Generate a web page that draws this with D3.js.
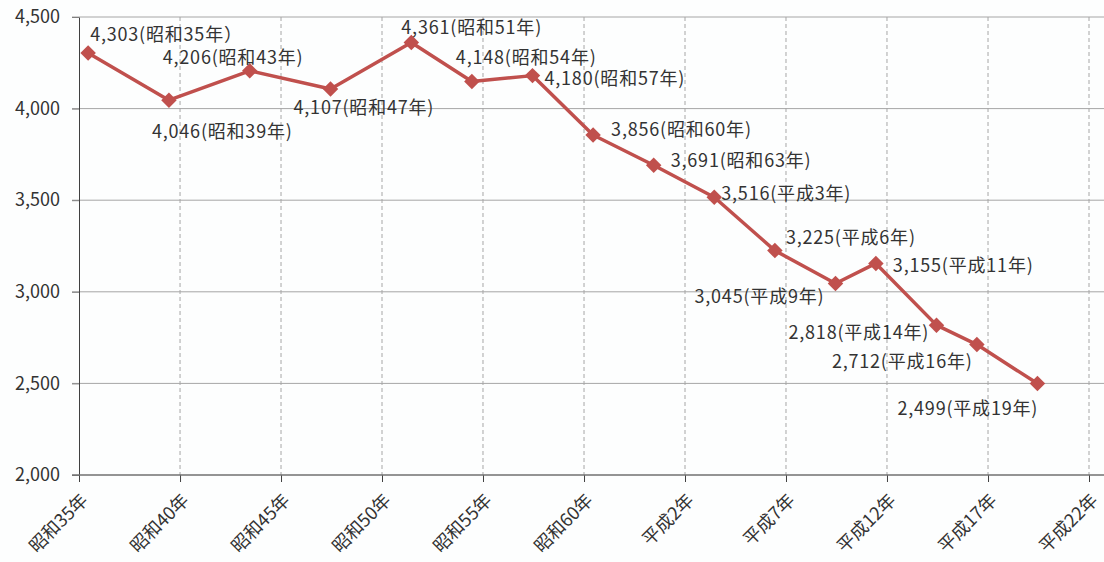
<!DOCTYPE html>
<html lang="ja">
<head>
<meta charset="utf-8">
<script src="https://cdn.jsdelivr.net/npm/d3@7"></script>
<style>
  html, body { margin: 0; padding: 0; background: #fdfefe; }
  svg { display: block; }
  text { font-family: "Noto Sans CJK JP", "Noto Sans", sans-serif; fill: #333; }
</style>
</head>
<body>
<svg id="chart" width="1104" height="562"></svg>
<script>
// Survey years and counts
const surveyYears = [1960, 1964, 1968, 1972, 1976, 1979, 1982, 1985, 1988, 1991, 1994, 1997, 1999, 2002, 2004, 2007];
const counts = [4303, 4046, 4206, 4107, 4361, 4148, 4180, 3856, 3691, 3516, 3225, 3045, 3155, 2818, 2712, 2499];
const eraNames = ["昭和35年）", "昭和39年)", "昭和43年)", "昭和47年)", "昭和51年)", "昭和54年)", "昭和57年)",
                  "昭和60年)", "昭和63年)", "平成3年)", "平成6年)", "平成9年)", "平成11年)", "平成14年)",
                  "平成16年)", "平成19年)"];

// Axis ticks
const tickYears = [1960, 1965, 1970, 1975, 1980, 1985, 1990, 1995, 2000, 2005, 2010];
const tickLabels = ["昭和35年", "昭和40年", "昭和45年", "昭和50年", "昭和55年", "昭和60年",
                    "平成2年", "平成7年", "平成12年", "平成17年", "平成22年"];
const yTicks = [2000, 2500, 3000, 3500, 4000, 4500];

// Label placement relative to each marker (left edge, vertical centre)
const labelOffsets = [
  [2, -19], [-17, 31], [-87, -13], [-37, 19], [-10, -15], [-16, -24], [12, 3], [18, -5],
  [17, -5], [7, -4], [11, -13], [-141, 13], [17, 2], [-148, 7], [-145, 17], [-140, 25]
];

const svg = d3.select("#chart");
const plotLeft = 79, plotRight = 1089, plotTop = 17, plotBottom = 475;

// Surveys are taken mid-year
const surveyDate = yr => new Date(yr, 5, 14);
const x = d3.scaleTime()
  .domain([new Date(1960, 0, 1), new Date(2010, 0, 1)])
  .range([plotLeft, plotRight]);
const y = d3.scaleLinear().domain([2000, 4500]).range([plotBottom, plotTop]);

// Horizontal gridlines
svg.append("g").selectAll("line")
  .data(yTicks.filter(v => v > 2000))
  .join("line")
  .attr("x1", plotLeft - 7).attr("x2", 1104)
  .attr("y1", d => y(d)).attr("y2", d => y(d))
  .attr("stroke", "#a6a6a6").attr("stroke-width", 1);

// Vertical dashed gridlines
svg.append("g").selectAll("line")
  .data(tickYears.slice(1))
  .join("line")
  .attr("x1", d => x(new Date(d, 0, 1))).attr("x2", d => x(new Date(d, 0, 1)))
  .attr("y1", plotTop).attr("y2", plotBottom)
  .attr("stroke", "#a6a6a6").attr("stroke-width", 1)
  .attr("stroke-dasharray", "4,3");

// Y axis
const yAxis = d3.axisLeft(y).tickValues(yTicks).tickSize(7).tickSizeOuter(0).tickPadding(12)
  .tickFormat(d3.format(","));
const gy = svg.append("g").attr("transform", `translate(${plotLeft},0)`).call(yAxis);
gy.select(".domain").attr("stroke", "#404040");
gy.selectAll(".tick line").attr("stroke", "#808080");
gy.selectAll("text").attr("font-size", 18).attr("fill", "#333")
  .attr("font-family", "'Noto Sans CJK JP', sans-serif");

// X axis
const xAxis = d3.axisBottom(x)
  .tickValues(tickYears.map(d => new Date(d, 0, 1)))
  .tickSize(7).tickSizeOuter(0)
  .tickFormat((d, i) => tickLabels[i]);
const gx = svg.append("g").attr("transform", `translate(0,${plotBottom})`).call(xAxis);
gx.select(".domain").remove();
gx.append("line").attr("x1", plotLeft - 7).attr("x2", 1104).attr("y1", 0).attr("y2", 0)
  .attr("stroke", "#707070").attr("stroke-width", 1.3);
gx.selectAll(".tick line").attr("stroke", "#404040");
gx.selectAll(".tick text")
  .attr("font-size", 18).attr("fill", "#222")
  .attr("font-family", "'Noto Sans CJK JP', sans-serif")
  .attr("text-anchor", "end")
  .attr("y", 0).attr("dy", "0.9em")
  .attr("transform", "translate(-2,15) rotate(-45)");

// Series line
const points = surveyYears.map((yr, i) => ({ date: surveyDate(yr), value: counts[i], era: eraNames[i], off: labelOffsets[i] }));
svg.append("path")
  .datum(points)
  .attr("fill", "none")
  .attr("stroke", "#c0504d")
  .attr("stroke-width", 3.5)
  .attr("stroke-linejoin", "round")
  .attr("d", d3.line().x(d => x(d.date)).y(d => y(d.value)));

// Diamond markers
svg.append("g").selectAll("path")
  .data(points)
  .join("path")
  .attr("d", d3.symbol(d3.symbolSquare, 120))
  .attr("transform", d => `translate(${x(d.date)},${y(d.value)}) rotate(45)`)
  .attr("fill", "#c0504d");

// Value labels
svg.append("g").selectAll("text")
  .data(points)
  .join("text")
  .attr("x", d => x(d.date) + d.off[0])
  .attr("y", d => y(d.value) + d.off[1])
  .attr("dy", "0.36em")
  .attr("font-size", 18)
  .attr("letter-spacing", "0.8px")
  .attr("fill", "#333")
  .text(d => `${d3.format(",")(d.value)}(${d.era}`);
</script>
</body>
</html>
